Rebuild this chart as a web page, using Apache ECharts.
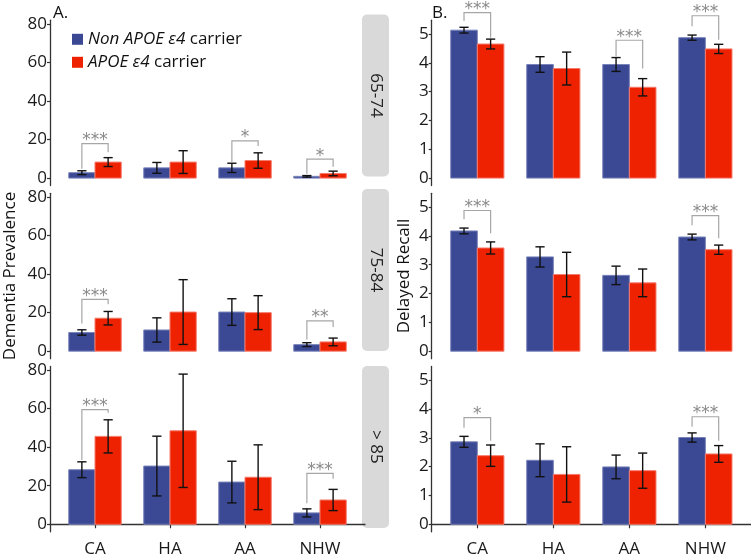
<!DOCTYPE html>
<html>
<head>
<meta charset="utf-8">
<script src="https://cdn.jsdelivr.net/npm/echarts@6/dist/echarts.min.js"></script>
<style>
html,body{margin:0;padding:0;background:#fff;}
#chart{width:751px;height:560px;}
</style>
</head>
<body>
<div id="chart"></div>
<script>
// ---------- data ----------
const categories = ['CA', 'HA', 'AA', 'NHW'];
const ageGroups = ['65-74', '75-84', '> 85'];
const seriesNames = ['Non APOE ε4 carrier', 'APOE ε4 carrier'];

// Dementia prevalence (panel A), one array per age group
const demNon6574 = [2.8, 5.3, 5.3, 0.9];
const demNonErr6574 = [1.0, 2.8, 2.4, 0.4];
const demCar6574 = [8.3, 8.3, 9.1, 2.4];
const demCarErr6574 = [2.3, 5.9, 4.0, 1.2];
const demNon7584 = [9.7, 11.0, 20.3, 3.4];
const demNonErr7584 = [1.4, 6.3, 6.9, 1.0];
const demCar7584 = [17.1, 20.3, 20.0, 4.8];
const demCarErr7584 = [3.5, 16.8, 8.8, 2.0];
const demNon85 = [28.3, 30.2, 21.9, 5.9];
const demNonErr85 = [4.1, 15.5, 10.8, 2.1];
const demCar85 = [45.6, 48.5, 24.4, 12.6];
const demCarErr85 = [8.6, 29.4, 16.8, 5.5];

// Delayed recall (panel B)
const recNon6574 = [5.13, 3.94, 3.94, 4.87];
const recNonErr6574 = [0.10, 0.27, 0.24, 0.09];
const recCar6574 = [4.65, 3.80, 3.15, 4.48];
const recCarErr6574 = [0.17, 0.57, 0.30, 0.16];
const recNon7584 = [4.17, 3.27, 2.63, 3.96];
const recNonErr7584 = [0.10, 0.35, 0.32, 0.10];
const recCar7584 = [3.58, 2.66, 2.37, 3.52];
const recCarErr7584 = [0.21, 0.77, 0.48, 0.16];
const recNon85 = [2.86, 2.22, 1.99, 3.01];
const recNonErr85 = [0.19, 0.57, 0.41, 0.16];
const recCar85 = [2.38, 1.73, 1.86, 2.44];
const recCarErr85 = [0.37, 0.96, 0.61, 0.29];

// significance brackets: [category index, label, bracket height, left leg end, right leg end]
const sigDem6574 = [[0, '***', 17.9, 4.8, 13.4], [2, '*', 19.3, 8.3, 16.6], [3, '*', 9.8, 2.2, 5.9]];
const sigDem7584 = [[0, '***', 26.9, 14.3, 24.3], [3, '**', 15.7, 6.0, 12.6]];
const sigDem85 = [[0, '***', 59.5, 33.4, 57.9], [3, '***', 26.4, 10.9, 23.6]];
const sigRec6574 = [[0, '***', 5.74, 5.45, 4.87], [2, '***', 4.78, 4.22, 3.80], [3, '***', 5.63, 5.27, 4.80]];
const sigRec7584 = [[0, '***', 4.88, 4.58, 4.09], [3, '***', 4.70, 4.37, 3.92]];
const sigRec85 = [[0, '*', 3.70, 3.35, 2.90], [3, '***', 3.73, 3.38, 2.90]];

const demTicks = [0, 20, 40, 60, 80];
const recTicks = [0, 1, 2, 3, 4, 5];

// ---------- chart ----------
const FONT = 'Open Sans';
const colors = ['#3b4894', '#ee2200'];
const strokes = ['#7983ba', '#f57b6c'];
const panelTops = [20.2, 193.3, 366.4];
const panelH = 165.4;

const panels = [
  {col: 0, row: 0, non: demNon6574, nonE: demNonErr6574, car: demCar6574, carE: demCarErr6574, sig: sigDem6574},
  {col: 0, row: 1, non: demNon7584, nonE: demNonErr7584, car: demCar7584, carE: demCarErr7584, sig: sigDem7584},
  {col: 0, row: 2, non: demNon85, nonE: demNonErr85, car: demCar85, carE: demCarErr85, sig: sigDem85},
  {col: 1, row: 0, non: recNon6574, nonE: recNonErr6574, car: recCar6574, carE: recCarErr6574, sig: sigRec6574},
  {col: 1, row: 1, non: recNon7584, nonE: recNonErr7584, car: recCar7584, carE: recCarErr7584, sig: sigRec7584},
  {col: 1, row: 2, non: recNon85, nonE: recNonErr85, car: recCar85, carE: recCarErr85, sig: sigRec85}
];

const grids = [], xAxes = [], yAxes = [], series = [];

panels.forEach((p, i) => {
  const left = p.col === 0 ? 50 : 431.7;
  const width = p.col === 0 ? 315 : 324.7;
  grids.push({left: left, top: panelTops[p.row], width: width, height: panelH});
  const bottom = p.row === 2;
  xAxes.push({
    type: 'value', gridIndex: i, min: 0.4, max: 4.6,
    splitLine: {show: false},
    axisLine: {show: bottom, lineStyle: {color: '#333', width: 1.3}},
    axisTick: {show: bottom, customValues: [1, 2, 3, 4], length: 4, lineStyle: {color: '#333', width: 1.2}},
    axisLabel: {show: bottom, customValues: [1, 2, 3, 4], formatter: v => categories[Math.round(v) - 1],
      fontFamily: FONT, fontSize: 17, color: '#1a1a1a', margin: 9}
  });
  const isDem = p.col === 0;
  yAxes.push({
    type: 'value', gridIndex: i,
    min: isDem ? -3.9 : -0.26, max: isDem ? 81.9 : 5.476,
    splitLine: {show: false},
    axisLine: {show: true, onZero: false, lineStyle: {color: '#333', width: 1.3}},
    axisTick: {show: true, customValues: isDem ? demTicks : recTicks, length: 3, lineStyle: {color: '#333', width: 1.2}},
    axisLabel: {customValues: isDem ? demTicks : recTicks, fontFamily: FONT, fontSize: 17, color: '#1a1a1a', margin: 3}
  });
  [[p.non, p.nonE], [p.car, p.carE]].forEach((pair, g) => {
    const data = pair[0].map((v, k) => [k + 1, g, v, pair[1][k]]);
    series.push({
      type: 'custom', name: seriesNames[g], xAxisIndex: i, yAxisIndex: i,
      itemStyle: {color: colors[g]},
      clip: false, z: 2,
      renderItem: function (params, api) {
        const cat = api.value(0), grp = api.value(1), v = api.value(2), e = api.value(3);
        const x0 = cat + (grp === 0 ? -0.35 : 0), x1 = x0 + 0.35, xc = (x0 + x1) / 2;
        const a = api.coord([x0, 0]), b = api.coord([x1, v]);
        const t = api.coord([xc, v + e]), u = api.coord([xc, v - e]);
        const cap = 4.6;
        return {type: 'group', children: [
          {type: 'rect', shape: {x: a[0], y: b[1], width: b[0] - a[0], height: a[1] - b[1]},
            style: {fill: colors[grp], stroke: strokes[grp], lineWidth: 1}},
          {type: 'line', shape: {x1: t[0], y1: t[1], x2: u[0], y2: u[1]}, style: {stroke: '#111', lineWidth: 1.4}},
          {type: 'line', shape: {x1: t[0] - cap, y1: t[1], x2: t[0] + cap, y2: t[1]}, style: {stroke: '#111', lineWidth: 1.4}},
          {type: 'line', shape: {x1: u[0] - cap, y1: u[1], x2: u[0] + cap, y2: u[1]}, style: {stroke: '#111', lineWidth: 1.4}}
        ]};
      },
      data: data
    });
  });
  series.push({
    type: 'custom', xAxisIndex: i, yAxisIndex: i, clip: false, z: 3, silent: true,
    renderItem: function (params, api) {
      const s = p.sig[params.dataIndex];
      const cat = s[0] + 1;
      const l = api.coord([cat - 0.175, s[2]]), lb = api.coord([cat - 0.175, s[3]]);
      const r = api.coord([cat + 0.175, s[2]]), rb = api.coord([cat + 0.175, s[4]]);
      return {type: 'group', children: [
        {type: 'polyline', shape: {points: [lb, l, r, rb]}, style: {stroke: '#a6a6a6', lineWidth: 1.2, fill: null}},
        {type: 'text', x: (l[0] + r[0]) / 2, y: l[1] - 3,
          style: {text: s[1], fontFamily: 'DejaVu Sans', fontSize: 17, fill: '#8a8a8a', align: 'center', verticalAlign: 'middle'}}
      ]};
    },
    data: p.sig.map(s => [s[0] + 1, s[2]])
  });
});

const graphics = [];
const stripTops = [14.5, 189, 366];
stripTops.forEach((t, k) => {
  graphics.push({type: 'rect', left: 362, top: t, shape: {x: 0, y: 0, width: 27, height: 162, r: 5},
    style: {fill: '#d9d9d9'}, z: 0});
  graphics.push({type: 'text', x: 375.5, y: t + 81, rotation: -Math.PI / 2,
    style: {text: ageGroups[k], fontFamily: FONT, fontSize: 17, fill: '#222', align: 'center', verticalAlign: 'middle'}});
});
graphics.push({type: 'text', x: 10, y: 276, rotation: Math.PI / 2,
  style: {text: 'Dementia Prevalence', fontFamily: FONT, fontSize: 17, fill: '#111', align: 'center', verticalAlign: 'middle'}});
graphics.push({type: 'text', x: 404, y: 276, rotation: Math.PI / 2,
  style: {text: 'Delayed Recall', fontFamily: FONT, fontSize: 17, fill: '#111', align: 'center', verticalAlign: 'middle'}});
graphics.push({type: 'text', x: 53, y: 13,
  style: {text: 'A.', fontFamily: FONT, fontSize: 17, fill: '#111', align: 'left', verticalAlign: 'middle'}});
graphics.push({type: 'text', x: 432, y: 13,
  style: {text: 'B.', fontFamily: FONT, fontSize: 17, fill: '#111', align: 'left', verticalAlign: 'middle'}});

const chart = echarts.init(document.getElementById('chart'), null, {renderer: 'canvas'});
chart.setOption({
  animation: false,
  backgroundColor: '#fff',
  grid: grids, xAxis: xAxes, yAxis: yAxes, series: series,
  graphic: graphics,
  legend: {
    data: seriesNames, orient: 'vertical', left: 72, top: 29.3, itemGap: 3, padding: 0,
    itemWidth: 11, itemHeight: 11, icon: 'rect', selectedMode: false,
    formatter: name => name.indexOf('Non') === 0 ? '{i|Non APOE ε4} carrier' : '{i|APOE ε4} carrier',
    textStyle: {fontFamily: FONT, fontSize: 17, color: '#111', lineHeight: 20,
      rich: {i: {fontFamily: FONT, fontSize: 17, fontStyle: 'italic', color: '#111', lineHeight: 20}}}
  }
});
</script>
</body>
</html>
